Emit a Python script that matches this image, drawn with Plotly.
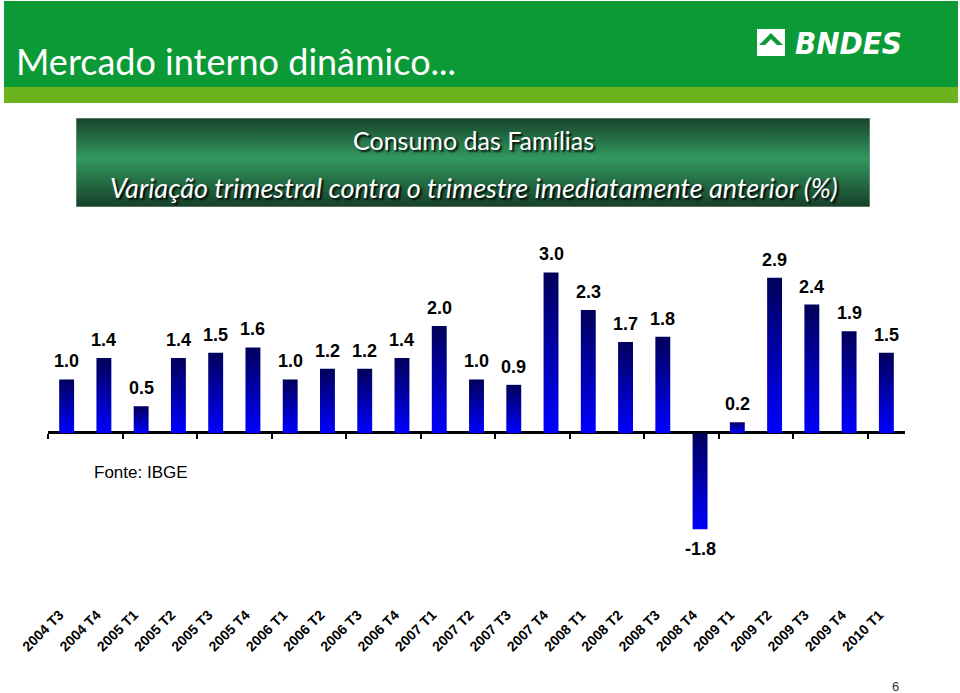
import base64
import plotly.graph_objects as go

# ---------------- data ----------------
categories = ["2004 T3", "2004 T4", "2005 T1", "2005 T2", "2005 T3", "2005 T4",
              "2006 T1", "2006 T2", "2006 T3", "2006 T4", "2007 T1", "2007 T2",
              "2007 T3", "2007 T4", "2008 T1", "2008 T2", "2008 T3", "2008 T4",
              "2009 T1", "2009 T2", "2009 T3", "2009 T4", "2010 T1"]
values = [1.0, 1.4, 0.5, 1.4, 1.5, 1.6, 1.0, 1.2, 1.2, 1.4, 2.0, 1.0,
          0.9, 3.0, 2.3, 1.7, 1.8, -1.8, 0.2, 2.9, 2.4, 1.9, 1.5]
page_title = "Mercado interno dinâmico..."
box_title = "Consumo das Famílias"
box_subtitle = "Variação trimestral contra o trimestre imediatamente anterior (%)"
source_note = "Fonte: IBGE"
page_number = "6"

# ---------------- geometry ----------------
W, H = 960, 693
ML, MR, MT, MB = 48, 55, 240, 90
PW, PH = W - ML - MR, H - MT - MB
Y_RANGE = [-3.178, 3.607]
X_RANGE = [-0.5, len(categories) - 0.5]
BAR_W = 0.4


def px(x):
    return (x - ML) / PW


def py(y):
    return (H - MB - y) / PH


fig = go.Figure()

# bars with vertical gradient (dark on top, bright blue at bottom)
for i, v in enumerate(values):
    fig.add_trace(go.Scatter(
        x=[i - BAR_W / 2, i - BAR_W / 2, i + BAR_W / 2, i + BAR_W / 2],
        y=[0, v, v, 0],
        mode="lines", fill="toself",
        line=dict(width=0, color="rgba(0,0,0,0)"),
        fillgradient=dict(type="vertical",
                          colorscale=[[0, "#0000ff"], [1, "#00005a"]]),
        hoverinfo="skip", showlegend=False,
    ))

# dummy trace carrying the tick axis drawn on the zero line
fig.add_trace(go.Scatter(x=[0], y=[0], xaxis="x2", mode="markers",
                         marker=dict(opacity=0), hoverinfo="skip",
                         showlegend=False))

# data labels
for i, v in enumerate(values):
    fig.add_annotation(
        x=i, y=v, text=f"{v:.1f}", showarrow=False,
        yanchor="bottom" if v >= 0 else "top",
        yshift=6 if v >= 0 else -8,
        font=dict(family="Liberation Sans, Arial, sans-serif", size=18,
                  color="black", weight="bold"),
    )

zero_pos = (0 - Y_RANGE[0]) / (Y_RANGE[1] - Y_RANGE[0])

fig.update_layout(
    width=W, height=H, template="none",
    margin=dict(l=ML, r=MR, t=MT, b=MB, pad=0),
    paper_bgcolor="white", plot_bgcolor="white",
    showlegend=False,
    xaxis=dict(range=X_RANGE, tickmode="array",
               tickvals=list(range(len(categories))), ticktext=categories,
               tickangle=-45, showline=False, showgrid=False, zeroline=False,
               ticks="", automargin=False, ticklabelshift=-7,
               tickfont=dict(family="Liberation Sans, Arial, sans-serif",
                             size=14, color="black", weight="bold")),
    xaxis2=dict(range=X_RANGE, overlaying="x", anchor="free",
                position=zero_pos, side="bottom",
                tickmode="array",
                tickvals=[k - 0.5 for k in range(0, len(categories), 2)],
                ticks="outside", ticklen=5, tickwidth=2, tickcolor="black",
                showticklabels=False, showline=False, showgrid=False,
                zeroline=False, automargin=False),
    yaxis=dict(range=Y_RANGE, showgrid=False, showline=False,
               showticklabels=False, ticks="", zeroline=True,
               zerolinecolor="black", zerolinewidth=3, automargin=False),
)

# header band
fig.add_shape(type="rect", xref="paper", yref="paper",
              x0=px(4), x1=px(958), y0=py(87), y1=py(1),
              fillcolor="#0b9a36", line=dict(width=0), layer="below")
fig.add_shape(type="rect", xref="paper", yref="paper",
              x0=px(4), x1=px(958), y0=py(103), y1=py(87),
              fillcolor="#6cb31e", line=dict(width=0), layer="below")

fig.add_annotation(xref="paper", yref="paper", x=px(14), y=py(61),
                   xanchor="left", yanchor="middle", showarrow=False,
                   text=page_title,
                   font=dict(family="Lato, Open Sans, sans-serif", size=36,
                             color="white"))

# logo
fig.add_shape(type="rect", xref="paper", yref="paper",
              x0=px(757), x1=px(785), y0=py(56), y1=py(29),
              fillcolor="white", line=dict(width=0))
fig.add_shape(type="path", xref="paper", yref="paper",
              path=(f"M {px(759)},{py(45)} L {px(771)},{py(33)} "
                    f"L {px(783)},{py(45)} L {px(777)},{py(45)} "
                    f"L {px(771)},{py(39)} L {px(765)},{py(45)} Z"),
              fillcolor="#0b9a36", line=dict(width=0))
fig.add_annotation(xref="paper", yref="paper", x=px(793), y=py(43),
                   xanchor="left", yanchor="middle", showarrow=False,
                   text="<b><i>BNDES</i></b>",
                   font=dict(family="Liberation Sans Narrow, DejaVu Sans Condensed, sans-serif",
                             size=31, color="white"))

# title box gradient
svg = ('<svg xmlns="http://www.w3.org/2000/svg" width="794" height="89" '
       'viewBox="0 0 794 89" preserveAspectRatio="none">'
       '<defs><linearGradient id="g" x1="0" y1="0" x2="0" y2="1">'
       '<stop offset="0" stop-color="#17432a"/>'
       '<stop offset="0.45" stop-color="#33985f"/>'
       '<stop offset="1" stop-color="#163f28"/>'
       '</linearGradient></defs>'
       '<rect width="794" height="89" fill="url(#g)" stroke="#9aa99f" stroke-width="1"/></svg>')
src = "data:image/svg+xml;base64," + base64.b64encode(svg.encode()).decode()
fig.add_layout_image(source=src, xref="paper", yref="paper",
                     x=px(76), y=py(118), sizex=794 / PW, sizey=89 / PH,
                     xanchor="left", yanchor="top", sizing="stretch",
                     layer="below")

shadow = "2px 2px 2px rgba(0,0,0,0.9)"
fig.add_annotation(xref="paper", yref="paper", x=px(473), y=py(140),
                   xanchor="center", yanchor="middle", showarrow=False,
                   text=box_title,
                   font=dict(family="Lato, Open Sans, sans-serif", size=25,
                             color="white", shadow=shadow))
fig.add_annotation(xref="paper", yref="paper", x=px(474), y=py(187),
                   xanchor="center", yanchor="middle", showarrow=False,
                   text=f"<i>{box_subtitle}</i>",
                   font=dict(family="Lato, Open Sans, sans-serif", size=27,
                             color="white", shadow=shadow))

# source note and page number
fig.add_annotation(xref="paper", yref="paper", x=px(141), y=py(472),
                   xanchor="center", yanchor="middle", showarrow=False,
                   text=source_note,
                   font=dict(family="Liberation Sans, Arial, sans-serif",
                             size=17, color="black"))
fig.add_annotation(xref="paper", yref="paper", x=px(895), y=py(686),
                   xanchor="center", yanchor="middle", showarrow=False,
                   text=page_number,
                   font=dict(family="Liberation Sans, Arial, sans-serif",
                             size=13, color="#333333"))

fig.write_html("out.html", config={"displayModeBar": False},
               post_script="document.body.style.margin='0px';")
